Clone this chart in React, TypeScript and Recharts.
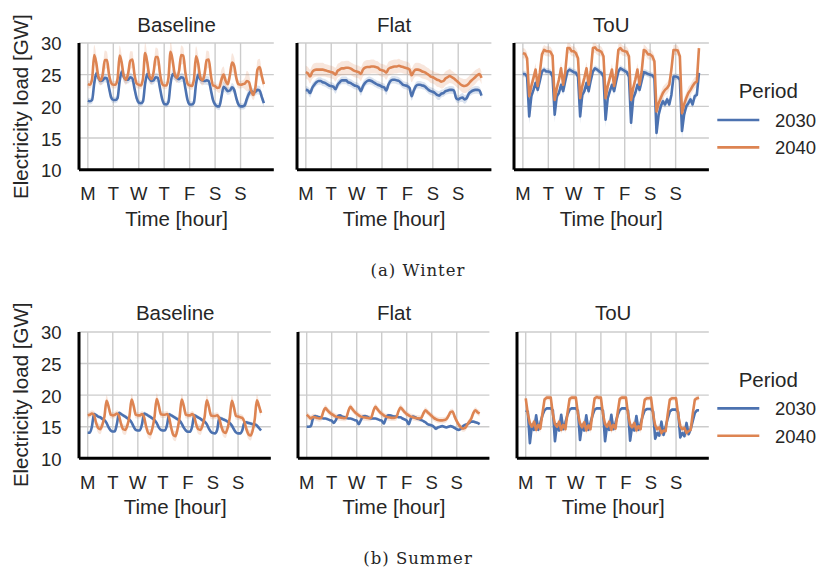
import React from 'react';
import { ComposedChart, Line, Area, XAxis, YAxis, CartesianGrid } from 'recharts';

// ---------- axes / labels ----------
const HOURS = Array.from({ length: 84 }, (_, i) => i * 2);
const DAY_TICKS = [0, 24, 48, 72, 96, 120, 144];
const DAY_LABELS = ['M', 'T', 'W', 'T', 'F', 'S', 'S'];
const Y_TICKS = [10, 15, 20, 25, 30];
const X_DOMAIN = [-8.35, 175.35];
const Y_DOMAIN = [10, 30];
const SCENARIOS = ['Baseline', 'Flat', 'ToU'];
const PERIODS = ['2030', '2040'];
const CAPTIONS = ['(a) Winter', '(b) Summer'];

// ---------- Winter, 2-hourly mean load (GW) ----------
const W_BASE_2030 = [
  20.9, 20.8, 21.0, 23.6, 25.2, 24.5, 24.0, 24.1, 24.5, 24.4, 22.9, 21.4,
  21.0, 21.0, 21.3, 24.0, 25.5, 24.6, 24.2, 24.2, 24.6, 24.4, 22.8, 21.3,
  20.6, 20.5, 20.8, 23.6, 25.1, 24.4, 24.0, 24.1, 24.6, 24.5, 22.9, 21.2,
  20.4, 20.3, 20.7, 23.6, 25.1, 24.8, 24.5, 24.3, 24.6, 24.5, 22.8, 21.0,
  20.3, 20.3, 20.6, 23.5, 25.0, 24.3, 24.1, 24.0, 24.1, 24.0, 22.6, 21.0,
  20.3, 20.0, 20.0, 21.5, 23.1, 22.8, 22.4, 22.5, 23.0, 22.6, 21.3, 20.3,
  20.0, 20.0, 20.2, 21.2, 22.0, 22.4, 22.2, 22.3, 22.6, 22.5, 21.5, 20.5,
];
const W_BASE_2040 = [
  23.5, 23.4, 24.3, 28.1, 26.8, 24.6, 24.1, 25.0, 27.3, 27.3, 25.0, 23.7,
  23.4, 23.4, 24.3, 28.0, 26.8, 24.7, 24.2, 25.2, 27.2, 27.4, 25.0, 23.6,
  23.4, 23.3, 24.4, 28.4, 27.0, 24.8, 24.3, 25.4, 27.8, 27.8, 25.2, 23.6,
  23.3, 23.3, 24.5, 28.6, 27.2, 25.0, 24.5, 25.6, 28.1, 28.0, 25.3, 23.6,
  23.3, 23.2, 24.2, 27.9, 26.8, 24.6, 24.1, 25.0, 27.3, 27.4, 24.9, 23.3,
  23.2, 22.9, 23.0, 24.2, 25.0, 24.0, 23.5, 25.0, 26.9, 26.4, 24.5, 23.5,
  23.4, 23.5, 23.6, 24.0, 23.8, 22.5, 21.8, 23.0, 25.8, 26.2, 24.8, 23.5,
];
const W_FLAT_2030 = [
  22.6, 22.5, 22.1, 22.9, 23.4, 23.8, 24.0, 24.0, 23.8, 23.7, 23.5, 23.3,
  23.2, 23.1, 22.7, 23.4, 23.8, 24.1, 24.1, 24.1, 23.8, 23.7, 23.5, 23.3,
  23.2, 23.0, 22.4, 23.2, 23.7, 24.0, 24.1, 24.0, 23.8, 23.6, 23.4, 23.3,
  23.1, 23.0, 22.5, 23.4, 24.0, 24.2, 24.2, 24.1, 24.0, 23.7, 23.4, 23.3,
  23.2, 22.9, 21.6, 22.5, 23.2, 23.4, 23.4, 23.3, 23.2, 22.9, 22.6, 22.4,
  22.3, 22.1, 21.8, 21.7, 22.0, 22.1, 22.4, 22.5, 22.6, 22.6, 22.5, 21.3,
  21.1, 21.3, 21.4, 21.1, 21.3, 22.0, 22.3, 22.5, 22.6, 22.6, 22.5, 21.7,
];
const W_FLAT_2040 = [
  25.4, 25.2, 24.7, 25.4, 25.7, 25.8, 25.8, 25.8, 25.8, 25.7, 25.6, 25.5,
  25.4, 25.3, 25.0, 25.6, 25.8, 26.0, 26.0, 26.1, 26.1, 26.0, 25.8, 25.6,
  25.5, 25.4, 25.1, 25.8, 26.1, 26.2, 26.2, 26.3, 26.3, 26.2, 26.1, 25.8,
  25.7, 25.6, 25.3, 25.9, 26.1, 26.2, 26.3, 26.3, 26.4, 26.3, 26.2, 26.1,
  26.0, 25.8, 24.9, 25.5, 25.8, 25.8, 25.7, 25.5, 25.4, 25.2, 25.0, 24.7,
  24.6, 24.4, 24.2, 24.1, 23.9, 24.0, 24.4, 24.6, 24.8, 24.6, 24.4, 24.1,
  23.8, 23.5, 23.3, 23.2, 23.3, 23.6, 24.0, 24.3, 24.6, 24.9, 25.1, 24.5,
];
const W_TOU_2030 = [
  25.1, 25.1, 24.7, 18.4, 21.6, 22.6, 23.7, 22.6, 24.0, 25.5, 25.8, 25.5,
  25.5, 25.4, 24.7, 18.7, 21.6, 22.1, 23.4, 22.4, 24.0, 25.5, 25.8, 25.6,
  25.4, 25.3, 24.7, 18.4, 21.8, 22.4, 23.7, 22.4, 24.1, 25.5, 26.0, 25.8,
  25.5, 25.3, 24.7, 17.9, 21.3, 22.4, 23.4, 22.4, 24.0, 25.5, 26.0, 25.8,
  25.6, 25.4, 24.7, 17.4, 21.3, 22.1, 23.4, 22.6, 24.0, 25.4, 25.3, 25.1,
  25.0, 24.9, 24.5, 15.8, 18.7, 20.0, 20.8, 20.3, 21.1, 20.3, 21.8, 24.7,
  24.7, 24.6, 24.2, 16.1, 18.7, 20.0, 20.5, 21.1, 20.3, 21.6, 21.8, 25.3,
];
const W_TOU_2040 = [
  28.4, 28.3, 27.6, 21.6, 23.2, 24.5, 25.8, 23.2, 25.3, 28.2, 28.9, 28.7,
  28.7, 28.6, 28.0, 21.0, 22.9, 24.2, 26.0, 23.4, 25.5, 29.2, 29.2, 28.7,
  28.7, 28.4, 27.6, 21.3, 23.2, 24.5, 26.0, 23.4, 25.5, 29.2, 29.3, 28.9,
  28.8, 28.6, 27.9, 21.3, 23.2, 24.5, 25.8, 23.2, 25.3, 28.9, 29.2, 28.8,
  28.7, 28.6, 27.9, 21.0, 22.9, 24.2, 25.8, 23.4, 25.5, 28.9, 28.7, 28.2,
  28.2, 27.9, 27.1, 19.2, 20.5, 21.3, 22.1, 22.6, 22.9, 23.4, 25.8, 28.9,
  28.9, 28.8, 27.9, 18.9, 20.3, 21.3, 22.1, 22.6, 23.2, 23.7, 23.9, 29.2,
];

// ---------- Summer, 2-hourly mean load (GW) ----------
const S_BASE_2030 = [
  14.05, 14.05, 15.0, 17.0, 16.85, 16.6, 16.5, 16.25, 16.05, 15.6, 14.9, 14.4,
  14.25, 14.3, 15.5, 17.2, 17.0, 16.8, 16.6, 16.35, 16.1, 15.7, 15.0, 14.5,
  14.4, 14.45, 15.4, 17.1, 16.95, 16.75, 16.55, 16.3, 16.05, 15.6, 14.9, 14.5,
  14.4, 14.45, 15.3, 16.95, 16.8, 16.6, 16.4, 16.2, 15.95, 15.5, 14.85, 14.4,
  14.2, 14.2, 15.0, 16.8, 16.65, 16.45, 16.25, 16.0, 15.8, 15.4, 14.7, 14.2,
  14.0, 13.95, 14.5, 16.4, 16.3, 16.15, 16.0, 15.8, 15.6, 15.2, 14.6, 14.1,
  13.95, 13.95, 14.4, 15.6, 15.7, 15.6, 15.5, 15.4, 15.4, 15.2, 14.8, 14.4,
];
const S_BASE_2040 = [
  16.8, 16.9, 17.1, 16.9, 15.6, 14.8, 14.6, 15.3, 16.6, 19.1, 18.2, 16.9,
  16.8, 16.9, 17.1, 16.7, 15.4, 14.6, 14.5, 15.2, 16.7, 19.3, 18.3, 16.9,
  16.8, 16.8, 17.0, 16.5, 15.0, 14.0, 13.8, 14.8, 16.6, 19.4, 18.4, 17.0,
  16.9, 16.9, 17.0, 16.4, 14.8, 13.7, 13.5, 14.6, 16.5, 19.3, 18.3, 16.9,
  16.8, 16.8, 17.0, 16.6, 15.3, 14.6, 14.5, 15.2, 16.6, 19.2, 18.2, 16.8,
  16.7, 16.7, 16.8, 16.3, 15.0, 14.2, 14.0, 14.8, 16.4, 19.1, 18.1, 16.7,
  16.6, 16.5, 16.4, 15.8, 14.6, 13.8, 13.6, 14.4, 16.2, 19.2, 18.3, 17.2,
];
const S_FLAT_2030 = [
  15.0, 15.0, 15.1, 16.3, 16.7, 16.6, 16.5, 16.4, 16.3, 16.3, 16.2, 16.05,
  15.95, 15.6, 16.05, 16.7, 16.8, 16.6, 16.5, 16.4, 16.3, 16.3, 16.2, 16.05,
  15.95, 15.4, 16.05, 16.6, 16.7, 16.6, 16.4, 16.3, 16.3, 16.3, 16.2, 16.05,
  15.95, 15.5, 16.3, 16.8, 16.8, 16.7, 16.6, 16.6, 16.5, 16.5, 16.3, 16.15,
  15.95, 15.4, 16.3, 16.6, 16.5, 16.3, 16.2, 16.05, 15.9, 15.7, 15.4, 15.3,
  15.2, 15.0, 14.7, 14.9, 15.0, 15.1, 15.0, 14.9, 15.0, 15.1, 15.0, 14.8,
  14.6, 14.5, 14.7, 15.1, 15.3, 15.4, 15.6, 15.8, 15.8, 15.7, 15.6, 15.4,
];
const S_FLAT_2040 = [
  16.9, 16.6, 16.3, 16.55, 16.5, 16.4, 16.3, 16.4, 17.4, 17.95, 17.6, 17.25,
  17.0, 16.8, 16.6, 16.5, 16.45, 16.4, 16.35, 16.45, 17.5, 18.15, 17.75, 17.35,
  17.05, 16.8, 16.6, 16.5, 16.45, 16.4, 16.35, 16.45, 17.5, 18.15, 17.75, 17.35,
  17.05, 16.8, 16.6, 16.5, 16.45, 16.4, 16.4, 16.5, 17.4, 18.05, 17.7, 17.3,
  17.0, 16.8, 16.6, 16.5, 16.4, 16.35, 16.3, 16.4, 17.1, 17.6, 17.3, 17.0,
  16.7, 16.4, 16.2, 16.05, 16.0, 16.0, 16.05, 16.2, 16.7, 17.3, 17.4, 16.6,
  15.9, 15.3, 14.9, 14.7, 14.8, 15.3, 15.8, 16.3, 17.2, 17.6, 17.3, 17.1,
];
const S_TOU_2030 = [
  17.6, 17.4, 12.4, 15.3, 14.5, 16.8, 14.5, 15.6, 16.8, 17.6, 17.9, 17.9,
  17.9, 17.6, 12.7, 15.4, 14.4, 16.9, 14.6, 15.7, 16.9, 17.7, 17.9, 17.9,
  17.9, 17.5, 12.9, 15.3, 14.4, 16.8, 14.5, 15.6, 16.8, 17.7, 17.9, 17.9,
  17.9, 17.5, 12.7, 15.3, 14.5, 16.9, 14.6, 15.6, 16.8, 17.6, 17.9, 17.9,
  17.9, 17.5, 12.8, 15.2, 14.4, 16.7, 14.5, 15.5, 16.7, 17.6, 17.8, 17.8,
  17.8, 17.4, 13.1, 14.0, 13.6, 15.8, 13.7, 15.0, 16.3, 17.4, 17.7, 17.7,
  17.7, 17.3, 13.3, 14.0, 13.5, 15.6, 13.8, 14.6, 15.9, 17.2, 17.6, 17.6,
];
const S_TOU_2040 = [
  19.5, 17.1, 15.5, 15.0, 15.8, 14.5, 15.3, 14.7, 17.1, 19.3, 19.6, 19.6,
  19.6, 17.0, 15.4, 15.0, 15.8, 14.5, 15.3, 14.6, 17.2, 19.4, 19.6, 19.6,
  19.6, 17.1, 15.5, 14.9, 15.7, 14.4, 15.2, 14.6, 17.2, 19.5, 19.7, 19.6,
  19.6, 17.0, 15.4, 15.0, 15.8, 14.5, 15.3, 14.7, 17.2, 19.4, 19.6, 19.6,
  19.6, 17.0, 15.3, 14.9, 15.6, 14.4, 15.1, 14.6, 17.1, 19.3, 19.5, 19.5,
  19.6, 17.0, 15.2, 14.6, 14.9, 14.0, 14.4, 14.3, 17.0, 19.3, 19.5, 19.5,
  19.5, 16.9, 15.1, 14.6, 14.8, 14.0, 14.3, 14.5, 17.1, 19.3, 19.5, 19.6,
];

// ---------- band half-widths by hour of day (GW) ----------
const SP_W_BASE_2030 = [0.5, 0.5, 0.6, 0.9, 0.8, 0.7, 0.6, 0.6, 0.7, 0.7, 0.7, 0.6];
const SP_W_BASE_2040 = [0.6, 0.6, 0.9, 1.6, 1.3, 0.9, 0.8, 1.1, 1.5, 1.3, 0.9, 0.7];
const SP_W_FLAT_2030 = [0.6, 0.6, 0.7, 0.7, 0.6, 0.6, 0.6, 0.6, 0.6, 0.6, 0.6, 0.6];
const SP_W_FLAT_2040 = [1.0, 1.0, 1.1, 1.1, 1.1, 1.1, 1.1, 1.1, 1.1, 1.0, 1.0, 1.0];
const SP_W_TOU_2030 = [0.5, 0.5, 0.6, 1.2, 0.8, 0.6, 0.6, 0.6, 0.6, 0.5, 0.5, 0.5];
const SP_W_TOU_2040 = [0.8, 0.8, 0.9, 1.2, 1.0, 0.9, 1.0, 0.9, 0.9, 0.9, 0.8, 0.8];
const SP_S_BASE_2030 = [0.2, 0.2, 0.3, 0.3, 0.3, 0.3, 0.3, 0.3, 0.3, 0.3, 0.2, 0.2];
const SP_S_BASE_2040 = [0.5, 0.5, 0.5, 0.6, 0.7, 0.8, 0.8, 0.7, 0.8, 0.9, 0.8, 0.6];
const SP_S_FLAT_2030 = [0.2, 0.2, 0.3, 0.3, 0.2, 0.2, 0.2, 0.2, 0.2, 0.2, 0.2, 0.2];
const SP_S_FLAT_2040 = [0.5, 0.5, 0.5, 0.5, 0.5, 0.5, 0.5, 0.5, 0.5, 0.5, 0.5, 0.5];
const SP_S_TOU_2030 = [0.2, 0.2, 0.4, 0.3, 0.3, 0.3, 0.3, 0.3, 0.3, 0.2, 0.2, 0.2];
const SP_S_TOU_2040 = [0.4, 0.5, 0.6, 0.6, 0.6, 0.6, 0.6, 0.6, 0.5, 0.4, 0.4, 0.4];

// ---------- styling ----------
const C30 = '#4c72b0';
const C40 = '#dd8452';
const TXT = '#262626';
const SANS = '"Liberation Sans", Arial, Helvetica, sans-serif';
const SERIF = '"DejaVu Serif", "Liberation Serif", serif';

const ROWS = [
  {
    top: 43.3, bottom: 170,
    panels: [
      { left: 79.2, right: 274.0 },
      { left: 296.9, right: 491.3 },
      { left: 513.8, right: 708.7 },
    ],
  },
  {
    top: 331.7, bottom: 458,
    panels: [
      { left: 79.3, right: 271.1 },
      { left: 298.3, right: 489.7 },
      { left: 517.3, right: 709.1 },
    ],
  },
];

const SERIES = [
  [
    [W_BASE_2030, W_BASE_2040, SP_W_BASE_2030, SP_W_BASE_2040],
    [W_FLAT_2030, W_FLAT_2040, SP_W_FLAT_2030, SP_W_FLAT_2040],
    [W_TOU_2030, W_TOU_2040, SP_W_TOU_2030, SP_W_TOU_2040],
  ],
  [
    [S_BASE_2030, S_BASE_2040, SP_S_BASE_2030, SP_S_BASE_2040],
    [S_FLAT_2030, S_FLAT_2040, SP_S_FLAT_2030, SP_S_FLAT_2040],
    [S_TOU_2030, S_TOU_2040, SP_S_TOU_2030, SP_S_TOU_2040],
  ],
];

const XTick = (props: any) => {
  const { x, y, payload } = props;
  const idx = DAY_TICKS.indexOf(payload.value);
  return (
    <text x={x} y={y + 30.7} textAnchor="middle" fontSize={18.5} fill={TXT} fontFamily={SANS}>
      {DAY_LABELS[idx]}
    </text>
  );
};

const YTick = (props: any) => {
  const { x, y, payload } = props;
  return (
    <text x={x - 17.5} y={y + 7.5} textAnchor="end" fontSize={18.5} fill={TXT} fontFamily={SANS}>
      {payload.value}
    </text>
  );
};

// grid lines placed at the axis ticks, through the plot offset
const vGrid = ({ offset }: any) =>
  DAY_TICKS.map(
    (t) => offset.left + ((t - X_DOMAIN[0]) / (X_DOMAIN[1] - X_DOMAIN[0])) * offset.width
  );
const hGrid = ({ offset }: any) =>
  Y_TICKS.map(
    (v) => offset.top + ((Y_DOMAIN[1] - v) / (Y_DOMAIN[1] - Y_DOMAIN[0])) * offset.height
  );

const ML = 8, YW = 64, MR = 6, MT = 16, MB = 4, XH = 42;

function Panel({ box, top, bottom, s30, s40, sp30, sp40, showY, curve }: any) {
  const data = HOURS.map((h, i) => ({
    h,
    a: s30[i],
    b: s40[i],
    ar: [s30[i] - sp30[i % 12], s30[i] + sp30[i % 12]],
    br: [s40[i] - sp40[i % 12], s40[i] + sp40[i % 12]],
  }));
  const w = box.right - box.left;
  const hgt = bottom - top;
  return (
    <div style={{ position: 'absolute', left: box.left - ML - YW, top: top - MT }}>
      <ComposedChart
        width={w + ML + YW + MR}
        height={hgt + MT + MB + XH}
        data={data}
        margin={{ top: MT, right: MR, bottom: MB, left: ML }}
      >
        <CartesianGrid
          stroke="#cccccc"
          strokeWidth={1.4}
          verticalCoordinatesGenerator={vGrid}
          horizontalCoordinatesGenerator={hGrid}
        />
        <XAxis
          type="number"
          dataKey="h"
          domain={X_DOMAIN}
          ticks={DAY_TICKS}
          interval={0}
          height={XH}
          tickSize={0}
          tickMargin={0}
          tickLine={false}
          axisLine={{ stroke: '#000', strokeWidth: 3 }}
          tick={XTick}
          allowDataOverflow
        />
        <YAxis
          type="number"
          domain={Y_DOMAIN}
          ticks={Y_TICKS}
          interval={0}
          width={YW}
          tickSize={0}
          tickMargin={0}
          tickLine={false}
          axisLine={{ stroke: '#000', strokeWidth: 3 }}
          tick={showY ? YTick : false}
          allowDataOverflow
        />
        <Area dataKey="ar" type={curve} stroke="none" fill={C30} fillOpacity={0.2} isAnimationActive={false} />
        <Area dataKey="br" type={curve} stroke="none" fill={C40} fillOpacity={0.2} isAnimationActive={false} />
        <Line dataKey="a" type={curve} stroke={C30} strokeWidth={2.6} dot={false} strokeLinejoin="round" isAnimationActive={false} />
        <Line dataKey="b" type={curve} stroke={C40} strokeWidth={2.6} dot={false} strokeLinejoin="round" isAnimationActive={false} />
      </ComposedChart>
    </div>
  );
}

export default function App() {
  return (
    <div style={{ position: 'absolute', left: 0, top: 0, width: 818, height: 573, background: '#fff', overflow: 'hidden' }}>
      {ROWS.map((row, r) =>
        row.panels.map((box, p) => {
          const [s30, s40, sp30, sp40] = SERIES[r][p];
          return (
            <Panel
              key={`${r}-${p}`}
              box={box}
              top={row.top}
              bottom={row.bottom}
              s30={s30}
              s40={s40}
              sp30={sp30}
              sp40={sp40}
              showY={p === 0}
              curve={p === 2 ? 'linear' : 'monotone'}
            />
          );
        })
      )}
      <svg width={818} height={573} style={{ position: 'absolute', left: 0, top: 0, pointerEvents: 'none' }}>
        {ROWS.map((row, r) => {
          const mid = (row.top + row.bottom) / 2;
          const legTop = row.top;
          return (
            <g key={r} fontFamily={SANS} fill={TXT}>
              {row.panels.map((box, p) => {
                const cx = (box.left + box.right) / 2;
                return (
                  <g key={p}>
                    <text x={cx} y={row.top - 11.6} textAnchor="middle" fontSize={20.5}>
                      {SCENARIOS[p]}
                    </text>
                    <text x={cx} y={row.bottom + 56.4} textAnchor="middle" fontSize={20.5}>
                      Time [hour]
                    </text>
                  </g>
                );
              })}
              <text
                x={0}
                y={0}
                transform={`translate(28, ${mid}) rotate(-90)`}
                textAnchor="middle"
                fontSize={20.5}
              >
                Electricity load [GW]
              </text>
              <text x={768.3} y={legTop + 55} textAnchor="middle" fontSize={20.5}>
                Period
              </text>
              {PERIODS.map((per, k) => {
                const ly = legTop + 76.7 + k * 27.4;
                return (
                  <g key={per}>
                    <line x1={717.3} x2={759.3} y1={ly} y2={ly} stroke={k === 0 ? C30 : C40} strokeWidth={2.6} />
                    <text x={775} y={ly + 6.8} fontSize={18.5}>
                      {per}
                    </text>
                  </g>
                );
              })}
              <text
                x={418}
                y={row.bottom + 105.5}
                textAnchor="middle"
                fontSize={16.5}
                fontFamily={SERIF}
                letterSpacing={1}
              >
                {CAPTIONS[r]}
              </text>
            </g>
          );
        })}
      </svg>
    </div>
  );
}
